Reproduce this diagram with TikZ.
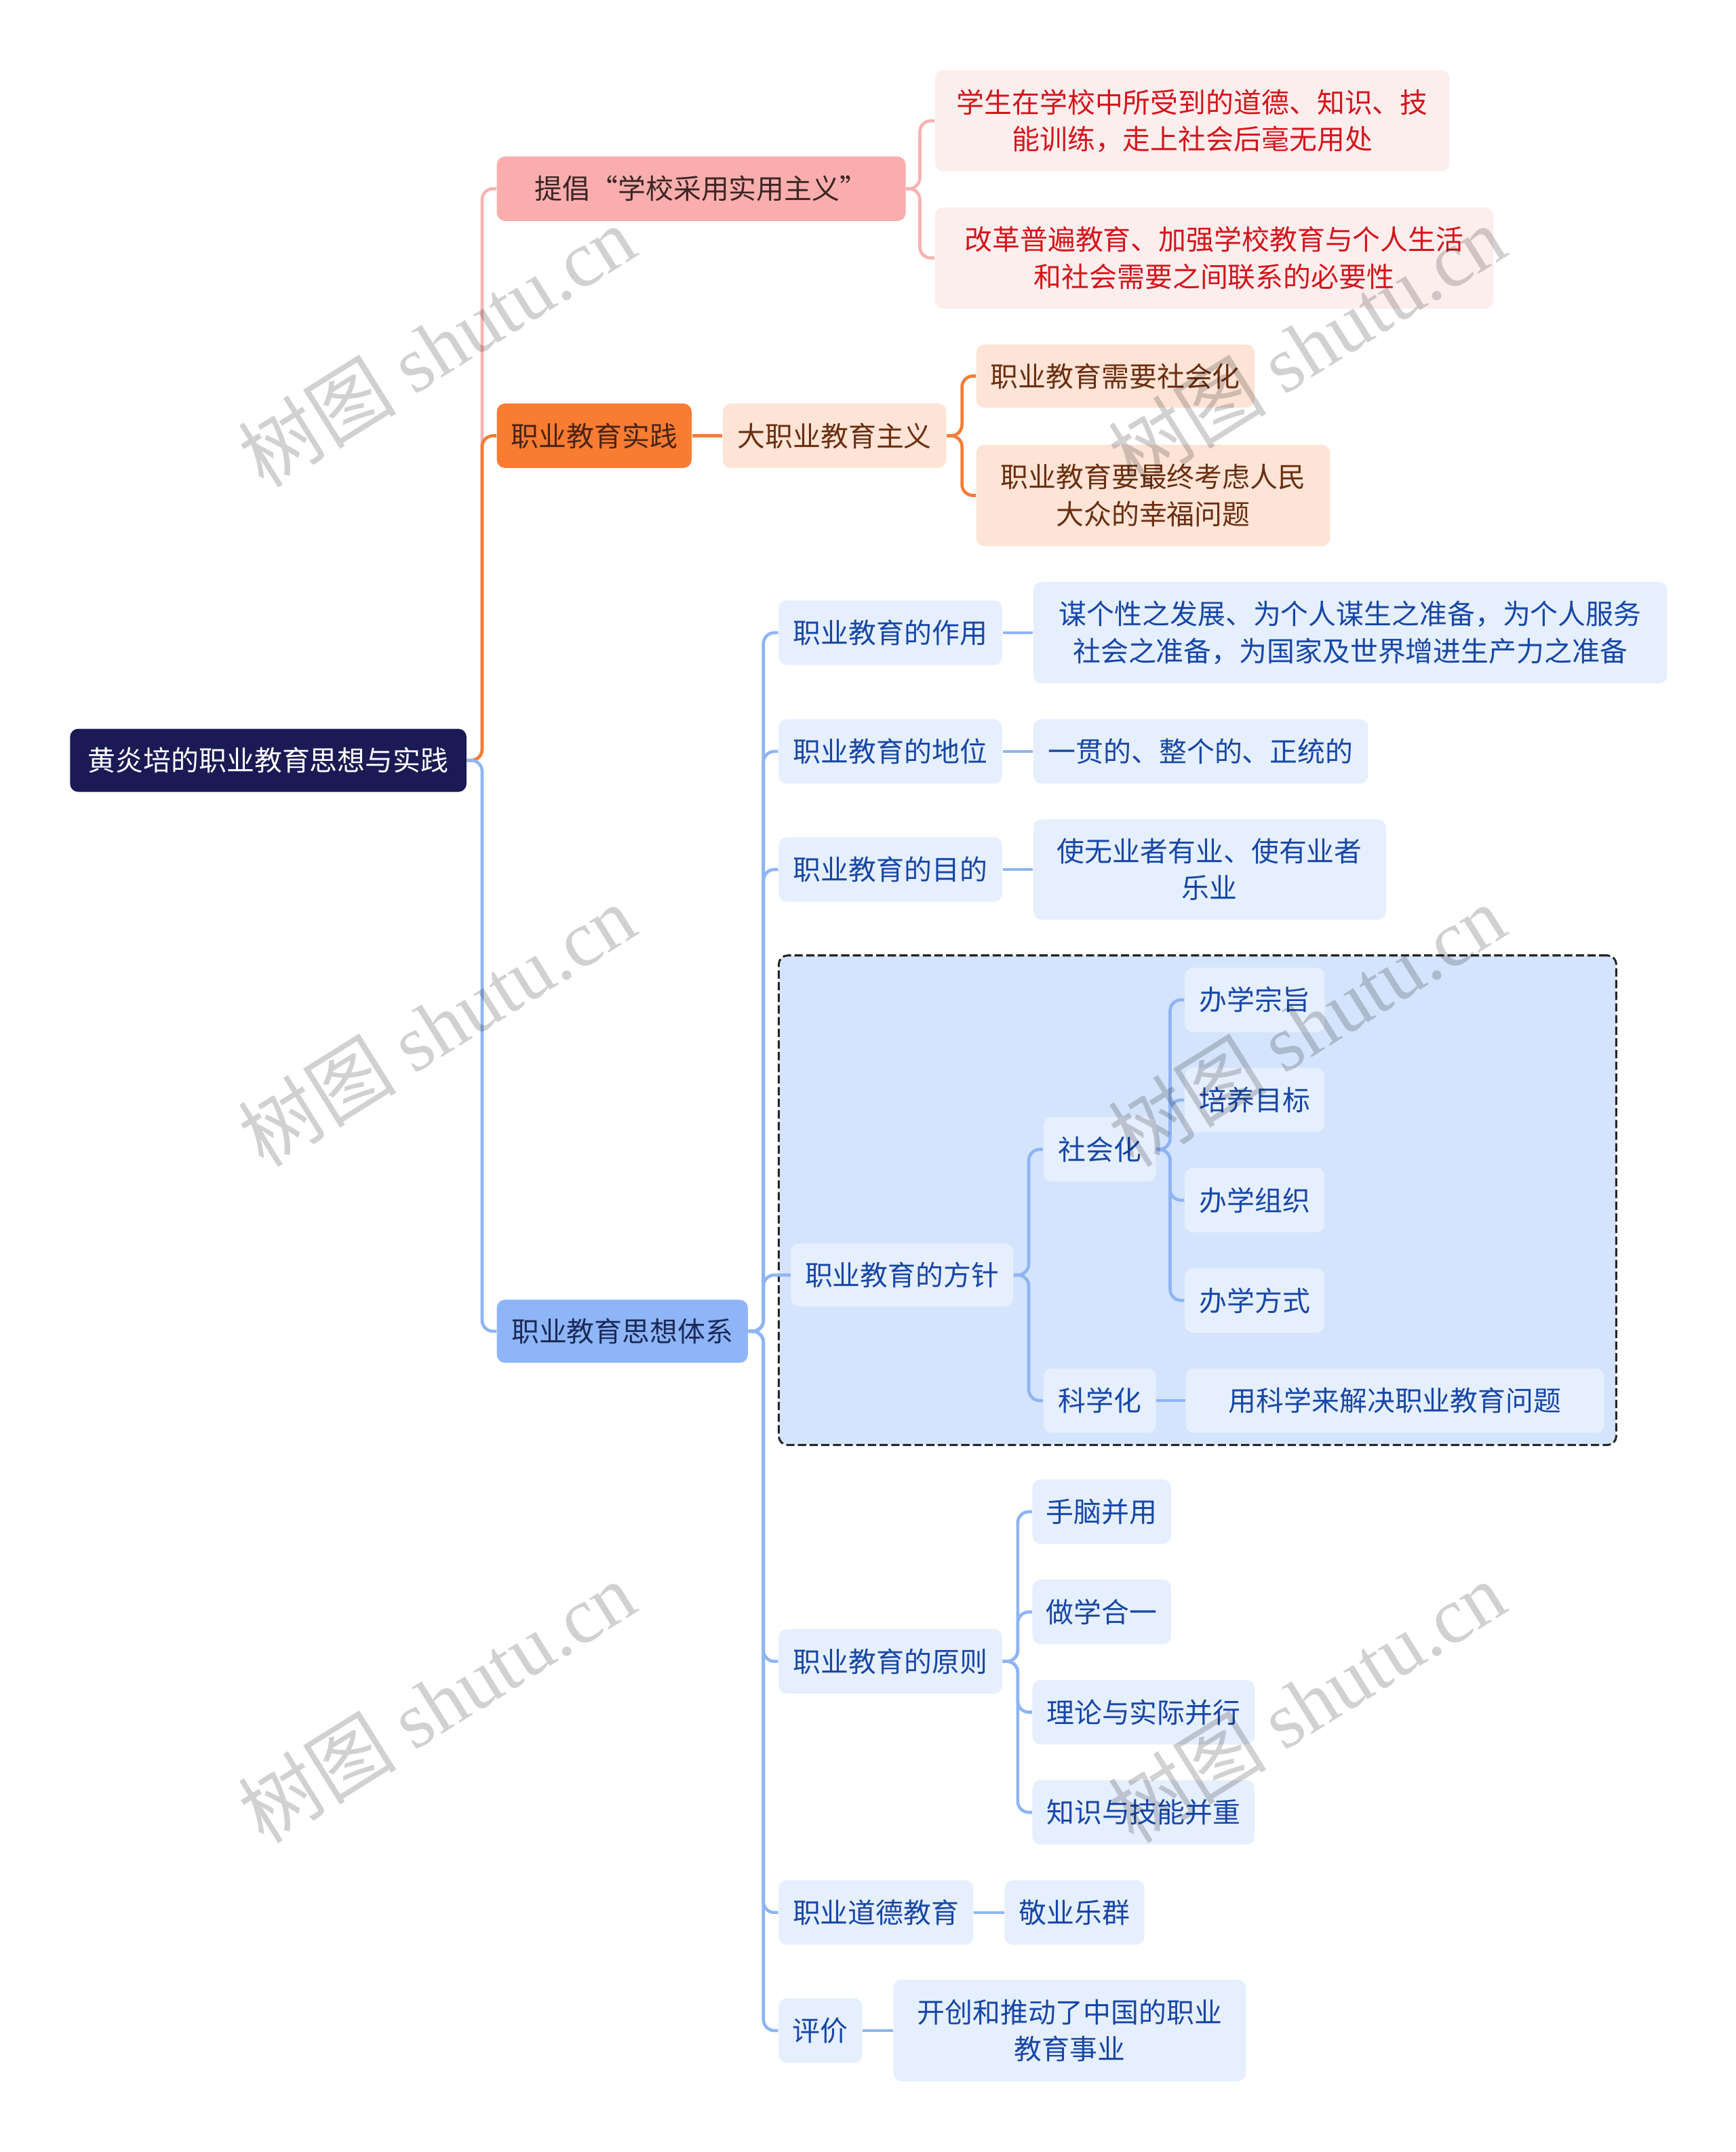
\documentclass[tikz,border=0pt]{standalone}
\usepackage{fontspec}
\setmainfont{Noto Sans CJK SC}
\newfontfamily\wmserif{Liberation Serif}
\usetikzlibrary{positioning,fit,backgrounds}
\definecolor{cRoot}{HTML}{1B1A55}
\definecolor{cPink}{HTML}{F9AEAD}
\definecolor{cPinkText}{HTML}{3B2626}
\definecolor{cPinkLeaf}{HTML}{FDEEEE}
\definecolor{cPinkLine}{HTML}{F7B3B1}
\definecolor{cRed}{HTML}{D3151B}
\definecolor{cOrange}{HTML}{F97C33}
\definecolor{cOrgText}{HTML}{4A2414}
\definecolor{cPeach}{HTML}{FDE4D6}
\definecolor{cBrown}{HTML}{6B2E10}
\definecolor{cOrgLine}{HTML}{F47C36}
\definecolor{cBlue}{HTML}{8EB5F7}
\definecolor{cBlueText}{HTML}{1B2A58}
\definecolor{cLeaf}{HTML}{E6EFFD}
\definecolor{cLeafText}{HTML}{1747A6}
\definecolor{cBlueLine}{HTML}{8EB5F3}
\definecolor{cZone}{HTML}{D4E4FC}

\begin{document}
\begin{tikzpicture}[
  x=0.02cm, y=-0.02cm,
  font=\fontsize{11.5pt}{15.3pt}\selectfont,
  box/.style     ={rounded corners=0.12cm, align=center, inner xsep=0.1cm, inner ysep=0.05cm, minimum height=0.94cm},
  rootbox/.style ={box, fill=cRoot, text=white},
  pinkbox/.style ={box, fill=cPink, text=cPinkText},
  pinkleaf/.style={box, fill=cPinkLeaf, text=cRed, minimum height=1.48cm},
  orgbox/.style  ={box, fill=cOrange, text=cOrgText},
  peachbox/.style={box, fill=cPeach, text=cBrown},
  bluebox/.style ={box, fill=cBlue, text=cBlueText},
  leaf/.style    ={box, fill=cLeaf, text=cLeafText},
  pinkln/.style  ={draw=cPinkLine, line width=1.3pt, rounded corners=0.16cm},
  orgln/.style   ={draw=cOrgLine, line width=1.3pt, rounded corners=0.16cm},
  blueln/.style  ={draw=cBlueLine, line width=1.3pt, rounded corners=0.16cm},
  zone/.style    ={draw=black!85, dash pattern=on 0.12cm off 0.05cm, line width=0.85pt, fill=cZone, rounded corners=0.13cm},
  wm/.style      ={font=\fontsize{33pt}{33pt}\selectfont, text=black, text opacity=0.18, rotate=32},
  node distance=0.44cm
]
\useasboundingbox (0,0) rectangle (1265,1568);
% root and main branches
\node[rootbox, minimum width=5.78cm, minimum height=0.92cm] (root) at (195.5,554) {黄炎培的职业教育思想与实践};
\node[pinkbox, minimum width=5.96cm] (advo) at (511,137.5) {提倡“学校采用实用主义”};
\node[orgbox, minimum width=2.84cm] (prac) at (433,317.5) {职业教育实践};
\node[bluebox, minimum width=3.66cm, minimum height=0.92cm] (sys) at (453.5,970) {职业教育思想体系};
% pink branch
\node[pinkleaf, minimum width=7.5cm, anchor=west] (useless) at (681,88) {学生在学校中所受到的道德、知识、技\\能训练，走上社会后毫无用处};
\node[pinkleaf, minimum width=8.14cm, anchor=west] (reform) at (681,188) {改革普遍教育、加强学校教育与个人生活\\和社会需要之间联系的必要性};
% orange branch
\node[peachbox, minimum width=3.26cm, right=of prac] (bigvoc) {大职业教育主义};
\node[peachbox, minimum width=4.06cm, minimum height=0.92cm, anchor=west] (social) at (711,274) {职业教育需要社会化};
\node[peachbox, minimum width=5.16cm, minimum height=1.48cm, anchor=west] (people) at (711,361) {职业教育要最终考虑人民\\大众的幸福问题};
% blue branch
\node[leaf, minimum width=3.26cm, anchor=west] (role) at (567,461) {职业教育的作用};
\node[leaf, minimum width=9.24cm, minimum height=1.48cm, right=of role] (roleA) {谋个性之发展、为个人谋生之准备，为个人服务\\社会之准备，为国家及世界增进生产力之准备};
\node[leaf, minimum width=3.26cm, anchor=west] (status) at (567,547.5) {职业教育的地位};
\node[leaf, minimum width=4.88cm, right=of status] (statusA) {一贯的、整个的、正统的};
\node[leaf, minimum width=3.26cm, anchor=west] (aim) at (567,633.5) {职业教育的目的};
\node[leaf, minimum width=5.14cm, minimum height=1.46cm, right=of aim] (aimA) {使无业者有业、使有业者\\乐业};
\node[leaf, minimum width=3.24cm, minimum height=0.92cm, anchor=west] (policy) at (576,929) {职业教育的方针};
\node[leaf, minimum width=1.64cm, anchor=west] (socz) at (760,837.5) {社会化};
\foreach \y/\t/\n in {728.5/办学宗旨/pa, 801.5/培养目标/pb, 874.5/办学组织/pc, 947.5/办学方式/pd}
  \node[leaf, minimum width=2.04cm, anchor=west] (\n) at (863,\y) {\t};
\node[leaf, minimum width=1.64cm, anchor=west] (sciz) at (760,1020.5) {科学化};
\node[leaf, minimum width=6.1cm, right=0.42cm of sciz] (sciA) {用科学来解决职业教育问题};
\node[leaf, minimum width=3.26cm, anchor=west] (princ) at (567,1210.5) {职业教育的原则};
\foreach \y/\w/\t/\n in {1101.5/2.02cm/手脑并用/r1, 1174.5/2.02cm/做学合一/r2, 1247.5/3.24cm/理论与实际并行/r3, 1320.5/3.24cm/知识与技能并重/r4}
  \node[leaf, minimum width=\w, anchor=west] (\n) at (752,\y) {\t};
\node[leaf, minimum width=2.84cm, anchor=west] (ethic) at (567,1393.5) {职业道德教育};
\node[leaf, minimum width=2.04cm, right=of ethic] (ethicA) {敬业乐群};
\node[leaf, minimum width=1.22cm, anchor=west] (eval) at (567,1479.5) {评价};
\node[leaf, minimum width=5.14cm, minimum height=1.48cm, right=of eval] (evalA) {开创和推动了中国的职业\\教育事业};
\begin{scope}[on background layer]
\node[zone, fit=(policy)(pa)(sciA), inner sep=0.17cm] (zoneBox) {};
\end{scope}
% connectors
\draw[pinkln] (root.east) -- ++(11,0) |- (advo.west);
\draw[orgln]  (root.east) -- ++(11,0) |- (prac.west);
\draw[blueln] (root.east) -- ++(11,0) |- (sys.west);
\foreach \c in {useless,reform} \draw[pinkln] (advo.east) -- ++(10,0) |- (\c.west);
\draw[orgln] (prac) -- (bigvoc);
\foreach \c in {social,people} \draw[orgln] (bigvoc.east) -- ++(11,0) |- (\c.west);
\foreach \c in {role,status,aim,policy,princ,ethic,eval} \draw[blueln] (sys.east) -- ++(11,0) |- (\c.west);
\draw[blueln] (role) -- (roleA);
\draw[blueln] (status) -- (statusA);
\draw[blueln] (aim) -- (aimA);
\foreach \c in {socz,sciz} \draw[blueln] (policy.east) -- ++(11,0) |- (\c.west);
\foreach \c in {pa,pb,pc,pd} \draw[blueln] (socz.east) -- ++(10,0) |- (\c.west);
\draw[blueln] (sciz) -- (sciA);
\foreach \c in {r1,r2,r3,r4} \draw[blueln] (princ.east) -- ++(11,0) |- (\c.west);
\draw[blueln] (ethic) -- (ethicA);
\draw[blueln] (eval) -- (evalA);
% watermarks
\foreach \x in {318,952} \foreach \y in {252,747,1240}
  \node[wm] at (\x,\y) {树图 {\wmserif shutu.cn}};
\end{tikzpicture}
\end{document}
